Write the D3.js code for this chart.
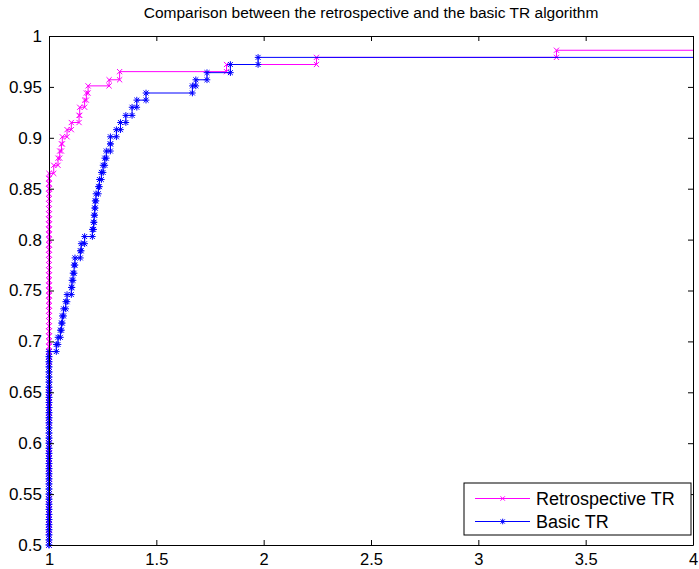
<!DOCTYPE html>
<html>
<head>
<meta charset="utf-8">
<script src="https://cdn.jsdelivr.net/npm/d3@7"></script>
<style>
  body { margin: 0; background: #fff; }
  text { font-family: "Liberation Sans", Arial, Helvetica, sans-serif; fill: #000; }
</style>
</head>
<body>
<svg id="chart" width="699" height="569"></svg>
<script>
const chartTitle = "Comparison between the retrospective and the basic TR algorithm";
const seriesNames = ["Retrospective TR", "Basic TR"];
const seriesColors = ["#ff00ff", "#0000ff"];
const xTicks = [1, 1.5, 2, 2.5, 3, 3.5, 4];
const xTickLabels = ["1", "1.5", "2", "2.5", "3", "3.5", "4"];
const yTicks = [0.5, 0.55, 0.6, 0.65, 0.7, 0.75, 0.8, 0.85, 0.9, 0.95, 1];
const yTickLabels = ["0.5", "0.55", "0.6", "0.65", "0.7", "0.75", "0.8", "0.85", "0.9", "0.95", "1"];

// values sitting on ratio = 1 (the vertical run at the left edge)
const retroAtOne = [0.5, 0.505, 0.51, 0.515, 0.52, 0.525, 0.53, 0.535, 0.54, 0.545,
  0.55, 0.555, 0.56, 0.565, 0.57, 0.575, 0.58, 0.585, 0.59, 0.595,
  0.6, 0.605, 0.61, 0.615, 0.62, 0.625, 0.63, 0.635, 0.64, 0.645,
  0.65, 0.655, 0.66, 0.665, 0.67, 0.675, 0.68, 0.685, 0.69, 0.695,
  0.7, 0.705, 0.71, 0.715, 0.72, 0.725, 0.73, 0.735, 0.74, 0.745,
  0.75, 0.755, 0.76, 0.765, 0.77, 0.775, 0.78, 0.785, 0.79, 0.795,
  0.8, 0.805, 0.81, 0.815, 0.82, 0.825, 0.83, 0.835, 0.84, 0.845,
  0.85, 0.855, 0.86, 0.865];
const retroStepX = [1.022, 1.042, 1.050, 1.058, 1.062, 1.084, 1.104, 1.140, 1.143,
  1.166, 1.174, 1.182, 1.280, 1.329, 1.827, 2.246, 3.364];
const retroStepY = [0.873, 0.880, 0.887, 0.894, 0.901, 0.908, 0.915, 0.922, 0.930,
  0.937, 0.944, 0.951, 0.957, 0.965, 0.972, 0.979, 0.986];

const basicAtOne = [0.5, 0.505, 0.51, 0.515, 0.52, 0.525, 0.53, 0.535, 0.54, 0.545,
  0.55, 0.555, 0.56, 0.565, 0.57, 0.575, 0.58, 0.585, 0.59, 0.595,
  0.6, 0.605, 0.61, 0.615, 0.62, 0.625, 0.63, 0.635, 0.64, 0.645,
  0.65, 0.655, 0.66, 0.665, 0.67, 0.675, 0.68, 0.685, 0.69];
const basicStepX = [1.034, 1.042, 1.053, 1.058, 1.062, 1.068, 1.078, 1.084, 1.104, 1.107,
  1.112, 1.117, 1.121, 1.146, 1.150, 1.166, 1.202, 1.208, 1.210, 1.213,
  1.215, 1.219, 1.230, 1.235, 1.244, 1.252, 1.260, 1.267, 1.286, 1.286,
  1.314, 1.333, 1.358, 1.387, 1.409, 1.452, 1.668, 1.684, 1.736, 1.845, 1.974];
const basicStepY = [0.697, 0.704, 0.711, 0.718, 0.725, 0.732, 0.739, 0.746, 0.753, 0.760,
  0.767, 0.775, 0.782, 0.789, 0.796, 0.803, 0.810, 0.817, 0.824, 0.831,
  0.838, 0.845, 0.852, 0.859, 0.866, 0.873, 0.880, 0.887, 0.894, 0.901,
  0.908, 0.915, 0.922, 0.930, 0.937, 0.944, 0.951, 0.957, 0.964, 0.972, 0.979];

const svg = d3.select("#chart");
const box = { left: 49, right: 693, top: 36, bottom: 545 };

const x = d3.scaleLinear().domain([1, 4]).range([box.left, box.right]);
const y = d3.scaleLinear().domain([0.5, 1]).range([box.bottom, box.top]);

svg.append("rect").attr("width", 699).attr("height", 569).attr("fill", "#fff");

svg.append("defs").append("clipPath").attr("id", "plot-clip")
  .append("rect")
  .attr("x", box.left - 4).attr("y", box.top - 4)
  .attr("width", box.right - box.left + 4).attr("height", box.bottom - box.top + 8);

// stairs(): every data point plus the corner before the next one, like matlab does
const stairs = (atOne, sx, sy) => {
  const pts = atOne.map(v => [1, v]).concat(sx.map((v, i) => [v, sy[i]]));
  const out = [];
  pts.forEach((p, i) => {
    out.push(p);
    if (i + 1 < pts.length) out.push([pts[i + 1][0], p[1]]);
  });
  return out;
};

const series = [
  { name: seriesNames[0], color: seriesColors[0], marker: "x", pts: stairs(retroAtOne, retroStepX, retroStepY) },
  { name: seriesNames[1], color: seriesColors[1], marker: "*", pts: stairs(basicAtOne, basicStepX, basicStepY) }
];

const markerPath = (m, r) => {
  const d = r * 0.75;
  if (m === "x") return `M${-r},${-r}L${r},${r}M${-r},${r}L${r},${-r}`;
  return `M0,${-r}L0,${r}M${-r},0L${r},0M${-d},${-d}L${d},${d}M${-d},${d}L${d},${-d}`;
};

const line = d3.line().x(d => x(d[0])).y(d => y(d[1]));
const plot = svg.append("g").attr("clip-path", "url(#plot-clip)");

series.forEach(s => {
  const last = s.pts[s.pts.length - 1];
  const g = plot.append("g");
  g.append("path")
    .attr("d", line(s.pts.concat([[4, last[1]]])))
    .attr("fill", "none")
    .attr("stroke", s.color)
    .attr("stroke-width", 1);
  g.selectAll("path.mk")
    .data(s.pts)
    .enter()
    .append("path")
    .attr("class", "mk")
    .attr("d", markerPath(s.marker, s.marker === "x" ? 2.6 : 3.3))
    .attr("transform", d => `translate(${x(d[0])},${y(d[1])})`)
    .attr("fill", "none")
    .attr("stroke", s.color)
    .attr("stroke-width", 1);
});

// axes, ticks pointing inwards on all four sides
const fmtX = (d, i) => xTickLabels[i];
const fmtY = (d, i) => yTickLabels[i];
const axes = [
  { ax: d3.axisBottom(x).tickValues(xTicks).tickFormat(fmtX).tickPadding(8), t: `translate(0,${box.bottom})` },
  { ax: d3.axisTop(x).tickValues(xTicks).tickFormat(""), t: `translate(0,${box.top})` },
  { ax: d3.axisLeft(y).tickValues(yTicks).tickFormat(fmtY).tickPadding(7), t: `translate(${box.left},0)` },
  { ax: d3.axisRight(y).tickValues(yTicks).tickFormat(""), t: `translate(${box.right},0)` }
];
axes.forEach((a, i) => {
  const g = svg.append("g")
    .attr("transform", a.t)
    .call(a.ax.tickSizeInner(-5).tickSizeOuter(0));
  g.select(".domain").attr("stroke", "#000").attr("stroke-width", 1);
  g.selectAll(".tick line").attr("stroke", "#000");
  g.selectAll(".tick text")
    .attr("font-family", "'Liberation Sans', Arial, sans-serif")
    .attr("font-size", i === 0 ? 16.5 : 17)
    .attr("fill", "#000");
});

svg.append("text")
  .attr("x", (box.left + box.right) / 2)
  .attr("y", 18)
  .attr("text-anchor", "middle")
  .attr("font-size", 15.5)
  .text(chartTitle);

// legend
const legend = svg.append("g").attr("transform", "translate(464,483)");
legend.append("rect")
  .attr("width", 227).attr("height", 52)
  .attr("fill", "#fff").attr("stroke", "#000").attr("stroke-width", 1);
series.forEach((s, i) => {
  const row = legend.append("g").attr("transform", `translate(0,${15.5 + i * 23})`);
  row.append("line")
    .attr("x1", 11).attr("x2", 66)
    .attr("stroke", s.color).attr("stroke-width", 1);
  row.append("path")
    .attr("d", markerPath(s.marker, s.marker === "x" ? 2.2 : 2.8))
    .attr("transform", "translate(38.7,0)")
    .attr("fill", "none").attr("stroke", s.color);
  row.append("text")
    .attr("x", 72).attr("dy", "0.36em")
    .attr("font-size", 18)
    .text(s.name);
});
</script>
</body>
</html>
